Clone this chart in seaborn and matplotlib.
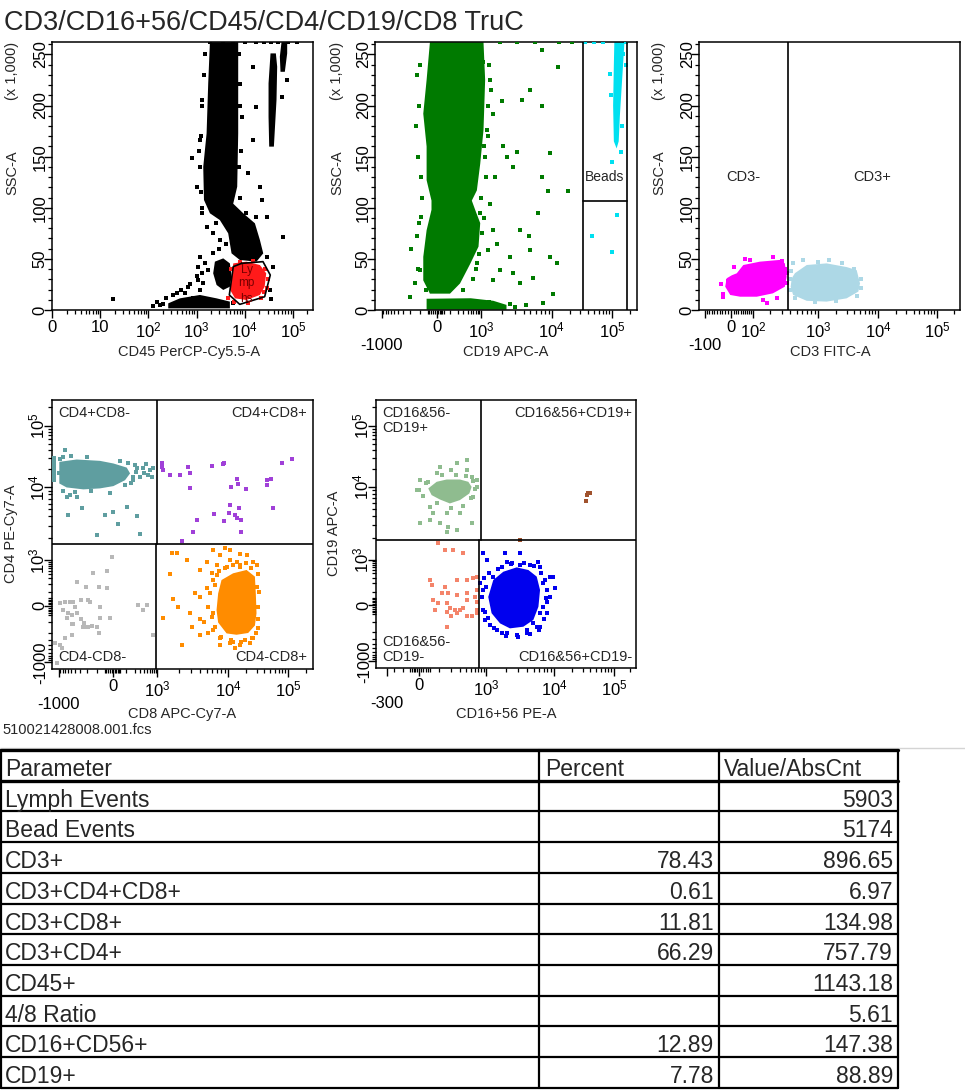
import numpy as np
import matplotlib
matplotlib.use("Agg")
import matplotlib.pyplot as plt
import seaborn as sns
from matplotlib.ticker import FixedLocator, FixedFormatter, NullFormatter

# ---------------- data ----------------
# plot 1 : CD45 PerCP-Cy5.5-A vs SSC-A (x1000)
p1_band_x = [1900, 7340, 7340, 7000, 5780, 9330, 16300, 20700, 24300, 17600, 7950, 5340, 4550, 3050, 1900, 1430, 1380, 1620, 1750]
p1_band_y = [262, 262, 172.8, 120.6, 104, 94.6, 84.8, 68.5, 55.4, 47.3, 48.9, 55.4, 75, 88, 94.6, 107.6, 140, 172.8, 221.7]
p1_blob_x = [2410, 3590, 4930, 5340, 4930, 3590, 2610, 2220]
p1_blob_y = [47.3, 50.5, 45.6, 32.6, 22.8, 19.6, 24.5, 35.9]
p1_debris_x = [259, 453, 1180, 2610, 4930, 4930, 259]
p1_debris_y = [6.5, 11.4, 14.7, 11.4, 8.2, 1.6, 1.6]
p1_streak1_x = [32300, 40400, 45800, 47300, 44400, 34400, 31300, 31300]
p1_streak1_y = [159.8, 159.8, 205.4, 238, 251, 251, 221.7, 189]
p1_streak2_x = [55500, 68200, 76300, 76300, 58200, 53700]
p1_streak2_y = [233, 233, 251, 262, 262, 247.8]
p1_lymph_x = [5800, 10900, 20700, 28000, 26000, 20700, 10900, 6300, 5000, 5500]
p1_lymph_y = [45.6, 47.3, 44.0, 35.9, 22.8, 14.7, 9.8, 11.4, 19.6, 35.9]
p1_lymph_dots_x = [4500, 6000, 30000, 27000, 12000, 22000, 5200, 8000, 15000, 29000, 25000]
p1_lymph_dots_y = [12, 8, 30, 40, 7, 12, 40, 47, 48, 22, 18]
p1_gate_x = [8600, 24000, 34000, 26000, 7900, 4800, 5800, 8600]
p1_gate_y = [45.6, 47.3, 34.2, 13.0, 5.5, 14.7, 42.4, 45.6]
p1_dots_x = [790, 63000, 18.7, 36000, 1090, 1380, 674, 574, 1180, 855,
             148, 127, 174, 386, 5780, 33300, 28400, 39000, 15000, 17600,
             15000, 11800, 20700, 22400, 28400, 1180, 1000, 1270, 1620, 2220,
             3050, 2220, 1490, 1750, 1090, 1180, 10900, 17600, 63000, 74000,
             58200, 1270, 1150, 7950, 8600, 8250,
             1900, 3500, 5800, 10000, 17000, 25000, 35000, 50000, 80000, 120000,
             200, 230, 330, 480, 750, 1000, 1300,
             1500, 1450, 1300, 1250, 1200, 1250, 7800, 7900, 7700, 8000, 1300, 2500, 4000, 3000]
p1_dots_y = [148.3, 71, 10.8, 10.8, 29.3, 26, 22.8, 16.3, 19.6, 11.4,
             8.2, 3.9, 4.9, 16.3, 6.5, 19.6, 52.2, 42.4, 238, 198.9,
             166.3, 133.7, 120.6, 107.6, 91.3, 166.3, 120.6, 94.6, 81.5, 75,
             68.5, 55.4, 45.6, 39.1, 42.4, 52.2, 94.6, 91.3, 238, 225,
             208.7, 205, 156, 221, 189, 156,
             262, 262, 262, 262, 262, 262, 262, 262, 262, 262,
             6, 12, 15, 20, 25, 33, 36,
             250, 230, 200, 170, 140, 115, 250, 200, 140, 110, 100, 85, 65, 60]

# plot 2 : CD19 APC-A vs SSC-A
p2_band_x = [-37, 1090, 1150, 1090, 958, 762, 539, 679, 958, 853, 480, 235, 104, -37, -79, -79, -57, -28, -28, -57, -57, -79, -57]
p2_band_y = [262, 262, 225, 176, 143, 117, 107, 98, 85, 62, 45, 26, 16, 16, 29, 52, 78, 98, 107, 127, 160, 192, 225]
p2_floor_x = [-57, 2300, 2300, 1500, 500, -57]
p2_floor_y = [0.3, 0.3, 5, 9, 11.5, 11]
p2_dots_x = [1970, 3760, 7160, 12700, 7160, 4920, 2080, 3200, 2310, 9380,
             7160, 8940, 18700, 1590, 2870, 6430, 3560, 1500, 4710, 2580,
             4920, 9380, 12000, 1870, 2870, 3560, 5510, 10500, 7490, 4260,
             1500, 1280, -202, -190, -132, -148, -106, -96, 1870, 3200,
             5800, 13000, 22000, 1090, 1350, 1500, 1210, 958, 1030, 1350,
             1680, 762, -120, -110, -100, -90, 1250, 1200, 1100, -60, 600, 300, 1000, 400,
             -140, -130, -95, -110, -120, 1300, 1400, 1250, 1150, 1100, 900, 700, 1300, 2600, 3000]
p2_dots_y = [204, 205, 200, 238, 254, 215, 160, 155, 150, 154,
             130, 116, 116, 130, 140, 95, 78, 78, 72, 52,
             59, 52, 46, 39, 36, 26, 31, 16, 6.5, 5,
             29, 59, 13, 60, 72, 26, 39, 91, 262, 262,
             262, 262, 262, 243, 225, 192, 176, 95, 75, 104,
             65, 46, 150, 200, 240, 110, 200, 130, 160, 20, 30, 20, 110, 110,
             180, 230, 130, 85, 40, 240, 215, 170, 150, 90, 55, 40, 8, 6, 3]
p2_beads_x = [110000, 162000, 150000, 136000, 130000, 120000, 108000, 105000, 108000]
p2_beads_y = [262, 262, 230, 190, 165, 158, 165, 200, 240]
p2_bead_dots_x = [120000, 46000, 99000, 142000, 93000, 100000, 145000, 155000, 170000, 95000, 36000, 50000, 70000, 175000]
p2_bead_dots_y = [93, 72, 57, 155, 231, 145, 180, 250, 240, 210, 262, 262, 262, 262]

# plot 3 : CD3 FITC-A vs SSC-A
p3_neg_x = [23, 51, 135, 282, 333, 354, 333, 220, 118, 37, -3, -20, -15, 3]
p3_neg_y = [35.9, 44, 47.3, 49, 45.6, 32.6, 22.8, 16.3, 13, 13, 14.7, 22.8, 31, 34]
p3_neg_dots_x = [-28, -26, 175, 354, 85, 220, 10, 300, -10, 250, 150, 340, -35, 60, 360]
p3_neg_dots_y = [13, 16, 6.5, 26, 49, 52, 42, 48, 28, 12, 10, 40, 25, 50, 36]
p3_pos_x = [467, 690, 1390, 3000, 4410, 5010, 4700, 3000, 1390, 690, 440, 405, 420]
p3_pos_y = [36, 44, 45.6, 42, 39, 26, 18, 11.4, 8.2, 9, 14.7, 22.8, 31]
p3_pos_dots_x = [440, 620, 4000, 5200, 5300, 4500, 2000, 900, 470, 400, 410, 1000, 2500, 390, 1500]
p3_pos_dots_y = [45.6, 49, 40, 30, 22, 14, 9, 8, 12, 20, 38, 47, 46, 30, 49]

# plot 4 : CD8 APC-Cy7-A vs CD4 PE-Cy7-A
p4_cd4_x = [-958, -366, -80, 0, 104, 140, 88, 0, -80, -248, -640, -958]
p4_cd4_y = [26000, 28400, 27000, 24500, 21000, 16900, 13100, 10500, 9700, 9400, 10000, 11600]
p4_cd4_dots_x = [-700, -640, -530, -274, -580, -104, -47, 0, 104, 235, 300, 35, 183, 300, 539, 380,
                 680, 762, 235, 150, -366, -18, -1000, -780,
                 -1300, -1300, -1300, -1300, -1300, -1300, -1300, -1300,
                 -900, -500, -200, 50, 200, 220, 180, -150, -400, -800, 90, 400, 600, 450, 120]
p4_cd4_dots_y = [40000, 7500, 7900, 5200, 4200, 2200, 4200, 4600, 5400, 4000, 2300, 3200, 13100, 14900, 15900, 21000,
                 14900, 21000, 20300, 11600, 7500, 8300, 16900, 31000,
                 13000, 15000, 17000, 19000, 21000, 24000, 27000, 30000,
                 29000, 32000, 31000, 27000, 23000, 18000, 15000, 8800, 8600, 9000, 11000, 17000, 19000, 24000, 25000]
p4_dp_x = [1150, 1210, 1150, 1510, 2080, 2730, 2880, 5820, 8500, 8690, 2880, 11100, 14200, 14700, 19800, 43900, 45000,
           53000, 81000, 115000, 57000, 10700, 10300, 12900, 13800, 14900, 16700, 8690, 6350, 3580, 3210, 2200, 16100]
p4_dp_y = [24500, 19100, 21100, 15900, 15900, 21600, 16900, 22200, 23900, 25100, 9700, 10200, 13500, 11200, 9600, 13100, 10900,
           13500, 25100, 28800, 5200, 5700, 4500, 4200, 3800, 5200, 3550, 3460, 4300, 3600, 2420, 1840, 2420]
p4_dn_x = [-9, -37, -134, -350, -208, -90, -920, -700, -530, -440, -400, -770, -580, -480, -365, -284, -260, -234, -186,
           -147, -234, -640, -480, -440, -700, -480, -90, -104, -80, -18, 265, 380, 480, -920, -1200, -840, -1100,
           -186, -168, -284, -80, 762, -37]
p4_dn_y = [1120, 502, 440, 235, 161, 161, 20, 27, 27, 27, -5, -23, -41, -50, -41, -79, -137, -137, -137,
           -125, -101, -70, -112, -112, -273, -222, -200, -137, -70, -70, 4, -23, 4, -385, -355, -455, -1050,
           38, 27, 38, -5, -222, 142]
p4_cd8_x = [8050, 12100, 20300, 28000, 29000, 29800, 28000, 21600, 13800, 9500, 7220, 6850, 7220]
p4_cd8_y = [264, 420, 526, 335, 91, -41, -125, -200, -222, -205, -101, -23, 91]
p4_cd8_dots_x = [1590, 1870, 1510, 1210, 1680, 1980, 2880, 3990, 3990, 5230, 4950, 6150, 7640, 8980, 10700, 15700,
                 20300, 26200, 29800, 6150, 5520, 5230, 6150, 6490, 7640, 10700, 15700, 23100, 26200, 5820,
                 6850, 12100, 9500, 15700, 7640, 12900, 3400, 3990, 3050, 2200, 2590, 3990, 29800, 31800,
                 31000, 28700, 16700, 12100, 10700,
                 6000, 6500, 7000, 9000, 16000, 24000, 31000, 33000, 32000, 25000, 19000, 11000, 8000, 6200,
                 7500, 14000, 20000, 5000, 4500]
p4_cd8_dots_y = [1270, 1270, 400, -70, 49, -5, -41, -79, -222, -205, 918, 1390, 1180, 1460, 1390, 1240,
                 1180, 918, 736, 264, 91, -5, -41, -137, -273, -360, -385, -360, -273, 420,
                 736, 736, 657, 736, -385, -475, 91, 63, -137, -385, 1010, 526, 161, -5,
                 -79, -205, -330, -330, 1010,
                 -60, 180, 380, 600, 650, 600, 400, 100, -150, -260, -300, -300, -250, -170,
                 480, 900, 850, 150, -100]

# plot 5 : CD16+56 PE-A vs CD19 APC-A
p5_b_x = [43, 88, 158, 305, 450, 523, 472, 305, 187, 108, 60]
p5_b_y = [9590, 12200, 13300, 13300, 12200, 10100, 8180, 6630, 5960, 6760, 7760]
p5_b_dots_x = [417, 262, 108, 203, 88, 4.5, 51, 108, 172, 262, 523, 69, 158, 305, 660, 660, 4.5, -13, 51, 222,
               417, 523, 158, 187, 305, 88, 43, 566,
               30, 120, 250, 400, 560, 600, 500, 350, 200, 90, 20, 0]
p5_b_dots_y = [27600, 24300, 21500, 18900, 16700, 3160, 3520, 3160, 2850, 2560, 3160, 4340, 4340, 4340, 10100, 13000,
               13000, 9100, 5360, 9100, 18900, 14700, 2430, 6980, 10100, 8180, 12200, 7360,
               11500, 15500, 16000, 15000, 12500, 9500, 7000, 5500, 5200, 6000, 7500, 9000]
p5_dn_x = [98, 145, 222, 357, 51, 60, 145, 262, 417, 566, 660, 120, 172, 262, 417, 660, 610, 69, 78, 158, 187, 240,
           305, 357, 660, 660, 523, 417, 203, 158, 98, 417, 660, 158, 262]
p5_dn_y = [1680, 1360, 1360, 1250, 252, 174, 155, 252, 252, 285, 320, 85, 85, 69, 85, 117, 56, 33, -27, 11, -18, -27,
           -27, -18, -27, -45, -64, -64, -64, -143, 11, 33, 22, -36, -45]
p5_nk_x = [1280, 1800, 2830, 4200, 5560, 6220, 5890, 4960, 3540, 2250, 1610, 1210, 1080]
p5_nk_y = [252, 448, 601, 502, 320, 117, -9, -88, -143, -159, -114, -45, 56]
p5_nk_dots_x = [890, 1020, 1280, 1700, 2010, 2380, 3160, 4430, 5890, 8730, 9770, 10400, 8730, 7800, 6970, 6220, 5560,
                3960, 2830, 2010, 1430, 1150, 958, 890, 826, 890, 767, 6220, 6970, 7800, 3160, 1900, 4960, 3960,
                1700, 1080, 6220, 7800,
                1000, 1100, 1500, 2300, 3600, 5000, 6500, 7300, 7500, 7000, 6000, 4500, 3000, 2000, 1300, 950, 900]
p5_nk_dots_y = [1220, 1000, 320, 629, 880, 787, 703, 703, 880, 320, 320, 134, 56, 22, -9, -45, -143,
                -213, -237, -213, -176, -128, -88, -27, 56, 117, 197, 629, 197, 117, 1220, 1220, -114, -176,
                -213, -77, -143, -45,
                150, 400, 550, 750, 800, 650, 420, 250, 50, -80, -180, -230, -260, -250, -160, -40, 300]
p5_dp_x = [35000, 37300, 39800, 33700, 3160]
p5_dp_y = [7760, 8180, 8350, 6490, 1900]

# results table
table_head = ["Parameter", "Percent", "Value/AbsCnt"]
table_param = ["Lymph Events", "Bead Events", "CD3+", "CD3+CD4+CD8+", "CD3+CD8+", "CD3+CD4+",
               "CD45+", "4/8 Ratio", "CD16+CD56+", "CD19+"]
table_percent = ["", "", "78.43", "0.61", "11.81", "66.29", "", "", "12.89", "7.78"]
table_value = ["5903", "5174", "896.65", "6.97", "134.98", "757.79", "1143.18", "5.61", "147.38", "88.89"]

# ---------------- style ----------------
sns.set_theme(style="white")
plt.rcParams["font.family"] = ["Liberation Sans", "DejaVu Sans"]
plt.rcParams["mathtext.fontset"] = "custom"
plt.rcParams["mathtext.rm"] = "Liberation Sans"
plt.rcParams["axes.edgecolor"] = "black"
plt.rcParams["axes.linewidth"] = 1.1

W, H = 965, 1091
fig = plt.figure(figsize=(W / 100, H / 100), dpi=100)
fig.patch.set_facecolor("white")

# pixel overlay for the free text and the table
ov = fig.add_axes([0, 0, 1, 1])
ov.set_xlim(0, W)
ov.set_ylim(H, 0)
ov.axis("off")


def rect(x1, y1, x2, y2):
    return [x1 / W, 1 - y2 / H, (x2 - x1) / W, (y2 - y1) / H]


def biex(vals, pos, w=100.0):
    u = np.arcsinh(np.asarray(vals, float) / w)
    p = np.asarray(pos, float)

    def fwd(x):
        uu = np.arcsinh(np.asarray(x, float) / w)
        out = np.interp(uu, u, p)
        out = np.where(uu < u[0], p[0] + (uu - u[0]) * (p[1] - p[0]) / (u[1] - u[0]), out)
        out = np.where(uu > u[-1], p[-1] + (uu - u[-1]) * (p[-1] - p[-2]) / (u[-1] - u[-2]), out)
        return out

    def inv(y):
        yy = np.asarray(y, float)
        uu = np.interp(yy, p, u)
        uu = np.where(yy < p[0], u[0] + (yy - p[0]) * (u[1] - u[0]) / (p[1] - p[0]), uu)
        uu = np.where(yy > p[-1], u[-1] + (yy - p[-1]) * (u[-1] - u[-2]) / (p[-1] - p[-2]), uu)
        return w * np.sinh(uu)
    return fwd, inv


TOP = 262144
APC = biex([-1430, -1000, 0, 1e3, 1e4, 1e5, TOP], [0, 0.025, 0.235, 0.404, 0.675, 0.904, 1.0])
PE = biex([-570, -300, 0, 1e3, 1e4, 1e5, TOP], [0, 0.042, 0.165, 0.423, 0.685, 0.915, 1.0])
FITC = biex([-131, -100, 0, 100, 1e3, 1e4, 1e5, TOP], [0, 0.023, 0.123, 0.207, 0.456, 0.686, 0.912, 1.0])

p10 = lambda k: r"$\mathregular{10^{%d}}$" % k
decades = [k * 10 ** d for d in (3, 4) for k in range(2, 10)] + [2e5]
APC_MAJ = [-1000, 0, 1e3, 1e4, 1e5]
APC_MIN = list(range(-900, 0, 100)) + [-50, -40, -30, -20, -10, 10, 20, 30, 40, 50] + list(range(100, 1000, 100)) + decades
PE_MAJ = [-300, 0, 1e3, 1e4, 1e5]
PE_MIN = [-200, -100, -50, -40, -30, -20, -10, 10, 20, 30, 40, 50] + list(range(100, 1000, 100)) + decades
FITC_MAJ = [-100, 0, 100, 1e3, 1e4, 1e5]
FITC_MIN = list(range(-90, 0, 10)) + list(range(10, 100, 10)) + list(range(200, 1000, 100)) + decades
LOG_MAJ = [1, 10, 100, 1e3, 1e4, 1e5]
LOG_MIN = [k * 10 ** d for d in range(0, 5) for k in range(2, 10)] + [2e5]
SSC_MAJ = [0, 50, 100, 150, 200, 250]
SSC_MIN = list(range(10, 261, 10))


def set_axis(axis, scale, lim, maj, labels, minor):
    if scale == "log":
        axis._set_axes_scale("log")
    elif scale == "linear":
        axis._set_axes_scale("linear")
    else:
        axis._set_axes_scale("function", functions=scale)
    axis.set_major_locator(FixedLocator(maj))
    axis.set_major_formatter(FixedFormatter(labels))
    axis.set_minor_locator(FixedLocator(minor))
    axis.set_minor_formatter(NullFormatter())
    return lim


def new_ax(box, xs, ys):
    ax = fig.add_axes(rect(*box))
    ax.set_facecolor("white")
    xlim = set_axis(ax.xaxis, *xs)
    ylim = set_axis(ax.yaxis, *ys)
    for sp in ax.spines.values():
        sp.set_visible(True)
        sp.set_color("black")
        sp.set_linewidth(1.1)
    ax.tick_params(which="major", length=5.5, width=1.0, direction="out", color="black",
                   labelsize=12, labelcolor="black", pad=2)
    ax.tick_params(which="minor", length=2.8, width=0.9, direction="out", color="black")
    ax.tick_params(axis="x", which="both", bottom=True, top=False)
    ax.tick_params(axis="y", which="both", left=True, right=False)
    ax.tick_params(axis="y", which="major", labelrotation=90, pad=-2.5)
    for lab in ax.get_yticklabels():
        lab.set_verticalalignment("center")
    return ax, xlim, ylim


def blob(ax, xs, ys, color):
    ax.fill(xs, ys, color=color, lw=0, zorder=2)


def dots(ax, xs, ys, color, size=6.5):
    sns.scatterplot(x=xs, y=ys, ax=ax, color=color, s=size, marker="s", linewidth=0, legend=False, zorder=3)


ssc_y = ("linear", (0, TOP / 1000), SSC_MAJ, [str(v) for v in SSC_MAJ], SSC_MIN)
apc_labels_x = ["\n-1000", "0", p10(3), p10(4), p10(5)]
apc_labels_y = ["-1000", "0", p10(3), p10(4), p10(5)]
GATE = dict(color="black", lw=1.2, zorder=4)

# ---- plot 1
ax1, xl, yl = new_ax((52, 42, 313, 310),
                     ("log", (1, TOP), LOG_MAJ, ["0", "10", p10(2), p10(3), p10(4), p10(5)], LOG_MIN), ssc_y)
blob(ax1, p1_band_x, p1_band_y, "black")
blob(ax1, p1_blob_x, p1_blob_y, "black")
blob(ax1, p1_debris_x, p1_debris_y, "black")
blob(ax1, p1_streak1_x, p1_streak1_y, "black")
blob(ax1, p1_streak2_x, p1_streak2_y, "black")
dots(ax1, p1_dots_x, p1_dots_y, "black")
blob(ax1, p1_lymph_x, p1_lymph_y, "#ff1a1a")
dots(ax1, p1_lymph_dots_x, p1_lymph_dots_y, "#ff1a1a")
ax1.plot(p1_gate_x, p1_gate_y, **GATE)
for yy, t in zip([39, 26.4, 11], ["Ly", "mp", "hs"]):
    ax1.text(11000, yy, t, fontsize=8.5, color="#7a0000", ha="center", va="center", zorder=5)
ax1.set_xlim(xl); ax1.set_ylim(yl)

# ---- plot 2
ax2, xl, yl = new_ax((375, 42, 637, 310), (APC, (-1430, TOP), APC_MAJ, apc_labels_x, APC_MIN), ssc_y)
blob(ax2, p2_band_x, p2_band_y, "#007a00")
blob(ax2, p2_floor_x, p2_floor_y, "#007a00")
dots(ax2, p2_dots_x, p2_dots_y, "#007a00")
blob(ax2, p2_beads_x, p2_beads_y, "#00e0f0")
dots(ax2, p2_bead_dots_x, p2_bead_dots_y, "#00e0f0")
ax2.plot([33000, 33000], [0, TOP / 1000], **GATE)
ax2.plot([180000, 180000], [0, TOP / 1000], **GATE)
ax2.plot([33000, 180000], [107, 107], **GATE)
ax2.text(76000, 130, "Beads", fontsize=10, ha="center", va="center", zorder=5)
ax2.set_xlim(xl); ax2.set_ylim(yl)

# ---- plot 3
ax3, xl, yl = new_ax((699, 42, 960, 310),
                     (FITC, (-131, TOP), FITC_MAJ, ["\n-100", "0", p10(2), p10(3), p10(4), p10(5)], FITC_MIN), ssc_y)
blob(ax3, p3_neg_x, p3_neg_y, "#ff00ff")
dots(ax3, p3_neg_dots_x, p3_neg_dots_y, "#ff00ff")
blob(ax3, p3_pos_x, p3_pos_y, "#add8e6")
dots(ax3, p3_pos_dots_x, p3_pos_dots_y, "#add8e6")
ax3.plot([375, 375], [0, TOP / 1000], **GATE)
ax3.text(50, 130, "CD3-", fontsize=10.5, ha="center", va="center")
ax3.text(7850, 130, "CD3+", fontsize=10.5, ha="center", va="center")
ax3.set_xlim(xl); ax3.set_ylim(yl)

# ---- plot 4
ax4, xl, yl = new_ax((52, 400, 313, 669), (APC, (-1430, TOP), APC_MAJ, apc_labels_x, APC_MIN),
                     (APC, (-1430, TOP), APC_MAJ, apc_labels_y, APC_MIN))
blob(ax4, p4_cd4_x, p4_cd4_y, "#5f9ea0")
dots(ax4, p4_cd4_dots_x, p4_cd4_dots_y, "#5f9ea0")
dots(ax4, p4_dp_x, p4_dp_y, "#a040d8", 7)
dots(ax4, p4_dn_x, p4_dn_y, "#b8b8b8")
blob(ax4, p4_cd8_x, p4_cd8_y, "#ff8c00")
dots(ax4, p4_cd8_dots_x, p4_cd8_dots_y, "#ff8c00")
ax4.plot([-1430, TOP], [1700, 1700], **GATE)
ax4.plot([1000, 1000], [1700, TOP], **GATE)
ax4.plot([900, 900], [-1430, 1700], **GATE)
kw = dict(fontsize=10.5, transform=ax4.transAxes, va="center", zorder=5)
ax4.text(0.023, 0.952, "CD4+CD8-", ha="left", **kw)
ax4.text(0.977, 0.952, "CD4+CD8+", ha="right", **kw)
ax4.text(0.023, 0.045, "CD4-CD8-", ha="left", **kw)
ax4.text(0.977, 0.045, "CD4-CD8+", ha="right", **kw)
ax4.set_xlim(xl); ax4.set_ylim(yl)

# ---- plot 5
ax5, xl, yl = new_ax((376, 400, 636, 668),
                     (PE, (-570, TOP), PE_MAJ, ["\n-300", "0", p10(3), p10(4), p10(5)], PE_MIN),
                     (APC, (-1430, TOP), APC_MAJ, apc_labels_y, APC_MIN))
blob(ax5, p5_b_x, p5_b_y, "#8fbc8f")
dots(ax5, p5_b_dots_x, p5_b_dots_y, "#8fbc8f")
dots(ax5, p5_dn_x, p5_dn_y, "#f4846a")
blob(ax5, p5_nk_x, p5_nk_y, "#0000ee")
dots(ax5, p5_nk_dots_x, p5_nk_dots_y, "#0000ee")
dots(ax5, p5_dp_x, p5_dp_y, "#a0522d", 7)
ax5.plot([-570, TOP], [1850, 1850], **GATE)
ax5.plot([800, 800], [1850, TOP], **GATE)
ax5.plot([733, 733], [-1430, 1850], **GATE)
kw = dict(fontsize=10.5, transform=ax5.transAxes, va="center", zorder=5)
ax5.text(0.023, 0.951, "CD16&56-", ha="left", **kw)
ax5.text(0.023, 0.896, "CD19+", ha="left", **kw)
ax5.text(0.985, 0.951, "CD16&56+CD19+", ha="right", **kw)
ax5.text(0.023, 0.097, "CD16&56-", ha="left", **kw)
ax5.text(0.023, 0.041, "CD19-", ha="left", **kw)
ax5.text(0.985, 0.041, "CD16&56+CD19-", ha="right", **kw)
ax5.set_xlim(xl); ax5.set_ylim(yl)

# ---------------- free text ----------------
ov.text(4, 30, "CD3/CD16+56/CD45/CD4/CD19/CD8 TruC", fontsize=19.5, ha="left", va="baseline")
for xc, lab in [(189, "CD45 PerCP-Cy5.5-A"), (506, "CD19 APC-A"), (830, "CD3 FITC-A")]:
    ov.text(xc, 352, lab, fontsize=10.5, ha="center", va="center")
for xc, lab in [(182, "CD8 APC-Cy7-A"), (506, "CD16+56 PE-A")]:
    ov.text(xc, 714, lab, fontsize=10.5, ha="center", va="center")
for xl_ in [12, 337, 659]:
    ov.text(xl_, 173, "SSC-A", fontsize=10.5, rotation=90, ha="center", va="center")
    ov.text(xl_, 71, "(x 1,000)", fontsize=10.5, rotation=90, ha="center", va="center")
ov.text(11, 534, "CD4 PE-Cy7-A", fontsize=10.5, rotation=90, ha="center", va="center")
ov.text(334, 533, "CD19 APC-A", fontsize=10.5, rotation=90, ha="center", va="center")
ov.text(2, 730, "510021428008.001.fcs", fontsize=10.5, ha="left", va="center")
ov.plot([0, W], [748, 748], color="#d4d4d4", lw=1)

# ---------------- table ----------------
x_cols = [1, 539, 719, 898]
row_h = 30.7
top = 750
n_rows = len(table_param) + 1
for i in range(n_rows + 1):
    yy = top + i * row_h
    ov.plot([x_cols[0], x_cols[-1]], [yy, yy], color="black", lw=2.4 if i < 2 else 1.6)
for xc in x_cols:
    ov.plot([xc, xc], [top, top + n_rows * row_h], color="black", lw=1.6)
tk = dict(fontsize=16.5, va="baseline")
ov.text(5, top + 26, table_head[0], ha="left", **tk)
ov.text(545, top + 26, table_head[1], ha="left", **tk)
ov.text(724, top + 26, table_head[2], ha="left", **tk)
for i, (p, pc, v) in enumerate(zip(table_param, table_percent, table_value)):
    yb = top + (i + 1) * row_h + 26
    ov.text(5, yb, p, ha="left", **tk)
    if pc:
        ov.text(714, yb, pc, ha="right", **tk)
    ov.text(893, yb, v, ha="right", **tk)

fig.savefig("out.png", dpi=100, facecolor="white")
